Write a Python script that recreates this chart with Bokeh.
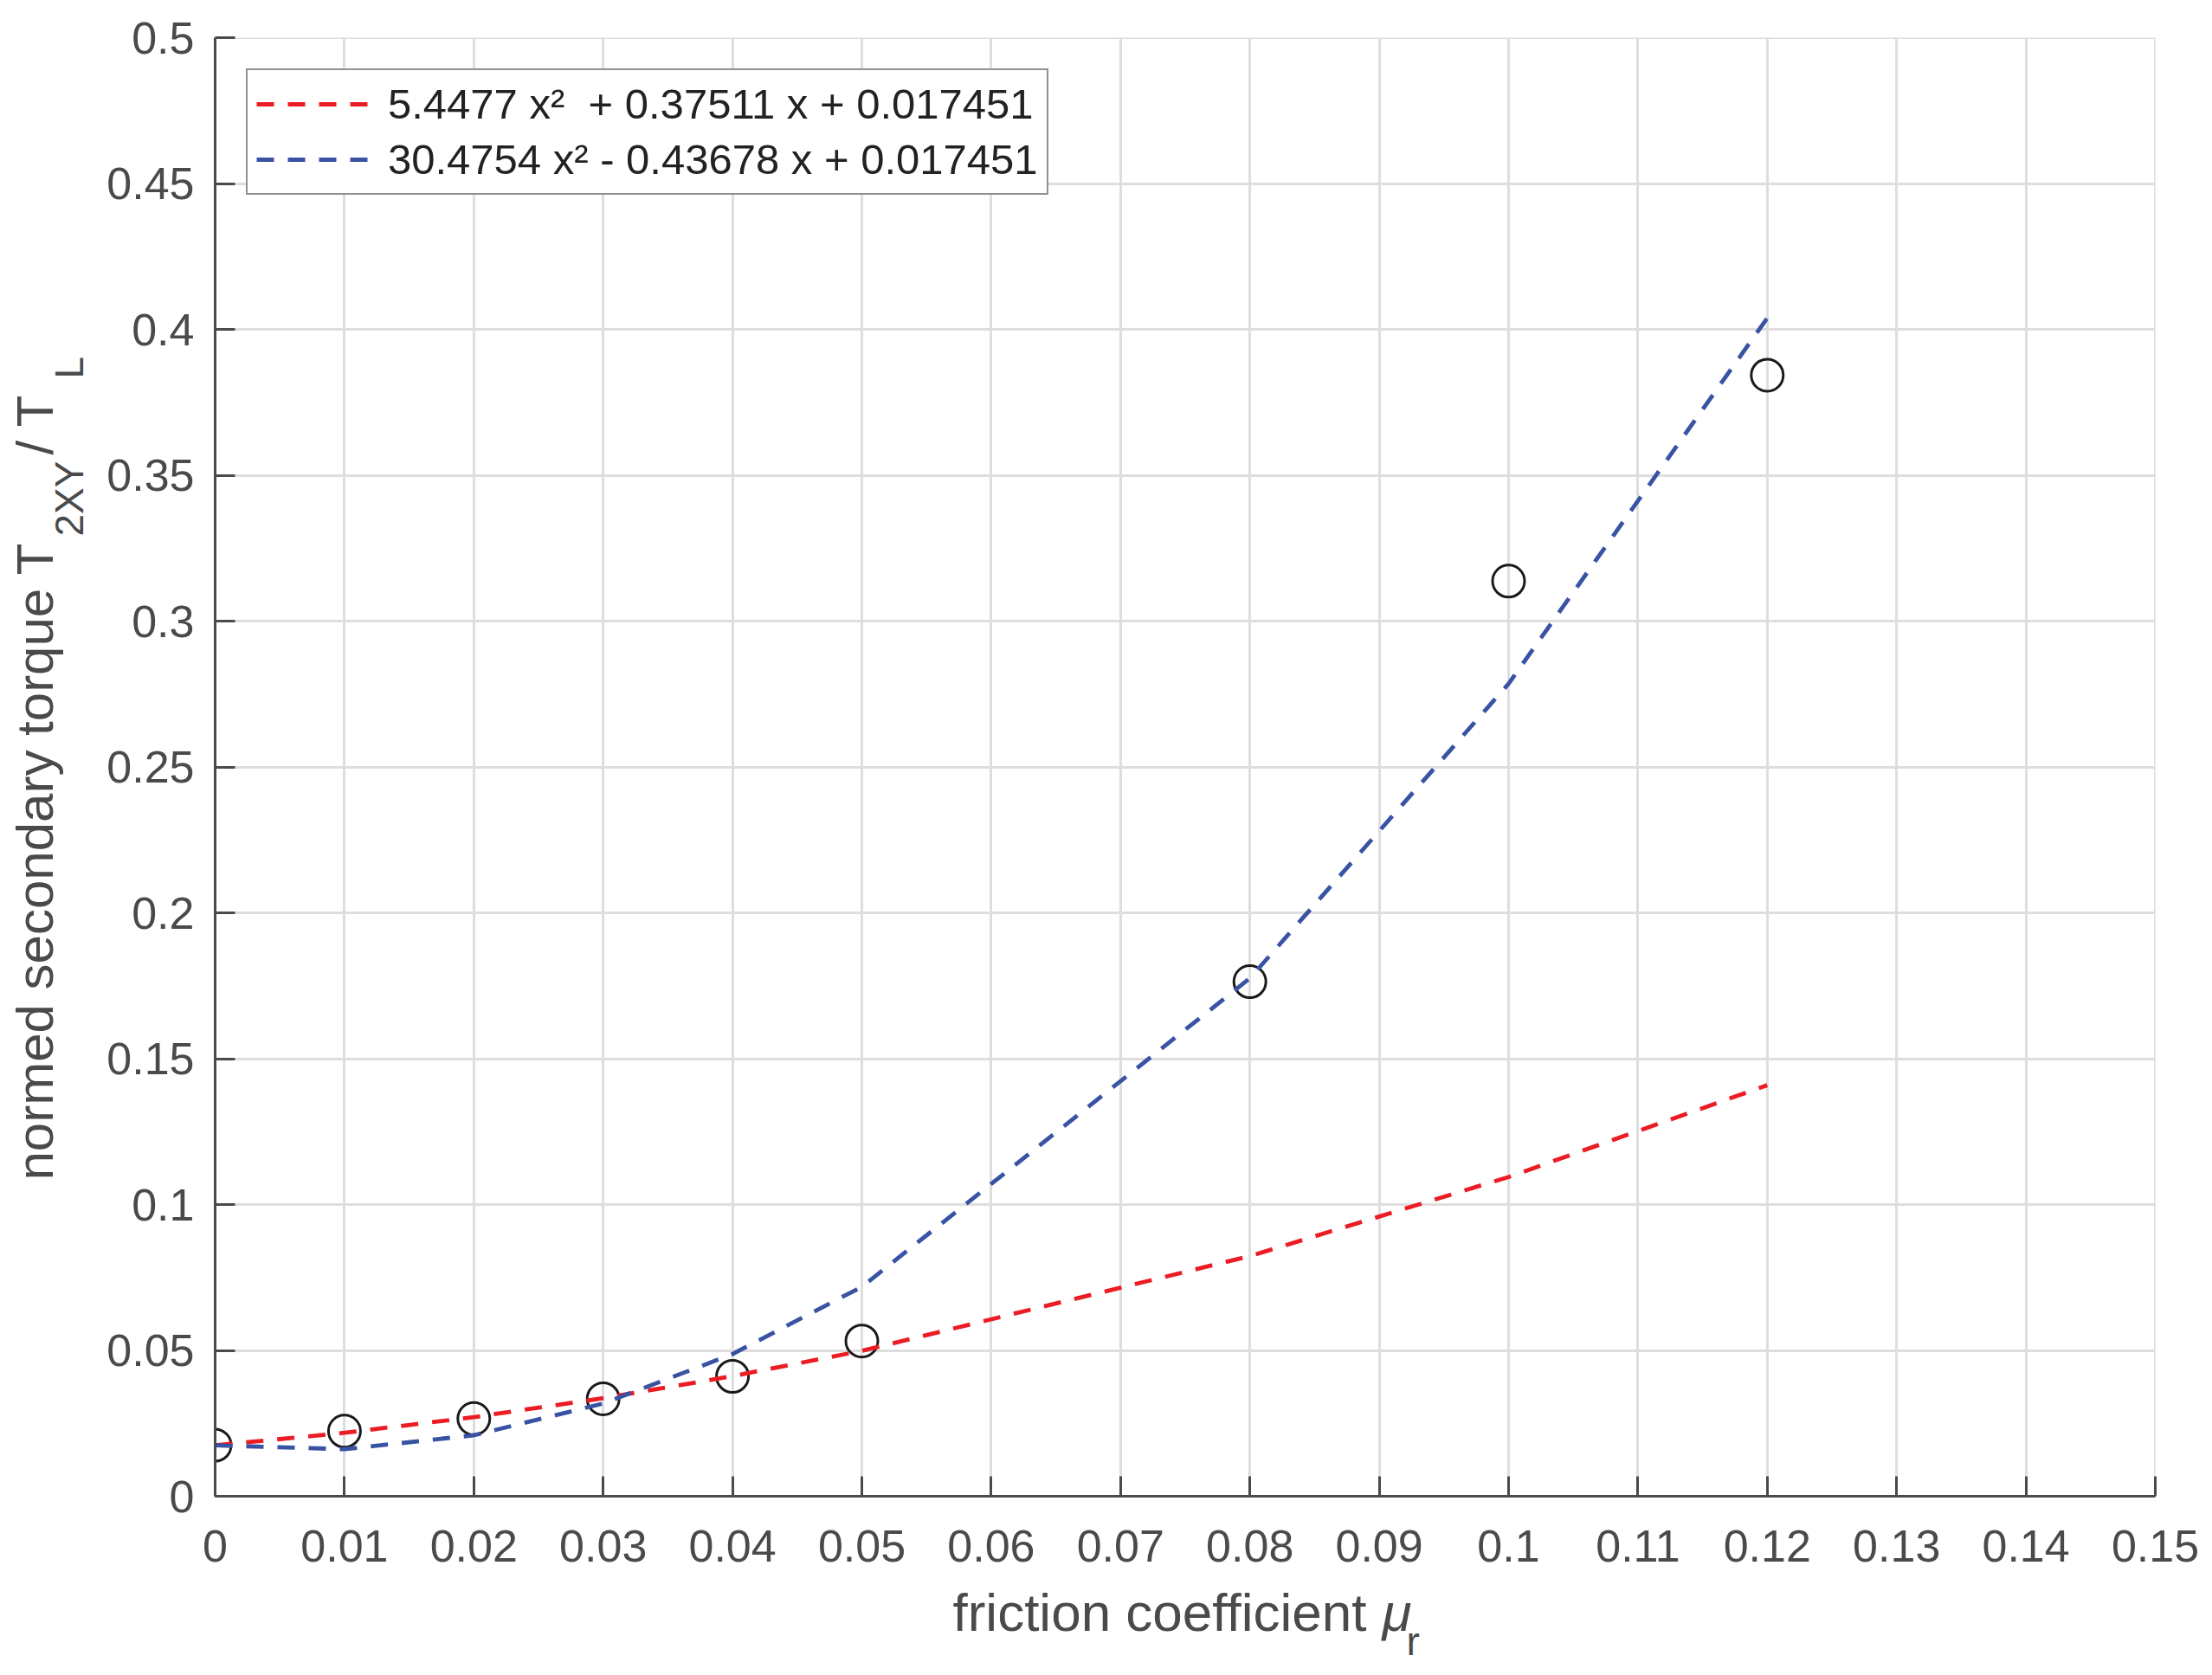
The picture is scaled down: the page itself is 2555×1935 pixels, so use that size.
from math import pi
from bokeh.plotting import figure
from bokeh.layouts import row, column
from bokeh.models import Range1d, FixedTicker, CustomJSTickFormatter, Span
from bokeh.core.properties import value
from bokeh.embed import file_html
from bokeh.resources import INLINE

# ---------------- data ----------------
mu = [0.0, 0.01, 0.02, 0.03, 0.04, 0.05, 0.08, 0.10, 0.12]
torque = [0.0175, 0.0223, 0.0266, 0.0334, 0.0411, 0.0532, 0.1764, 0.3137, 0.3843]
fit_red = [0.01745, 0.02175, 0.02713, 0.03361, 0.04117, 0.04983, 0.08232, 0.10944, 0.14091]
fit_blue = [0.01745, 0.01613, 0.02091, 0.03178, 0.04874, 0.07180, 0.17755, 0.27853, 0.40388]
x_ticks = [0.0, 0.01, 0.02, 0.03, 0.04, 0.05, 0.06, 0.07, 0.08, 0.09, 0.10,
           0.11, 0.12, 0.13, 0.14, 0.15]
y_ticks = [0.0, 0.05, 0.10, 0.15, 0.20, 0.25, 0.30, 0.35, 0.40, 0.45, 0.50]
label_red = "5.4477 x\u00b2  + 0.37511 x + 0.017451"
label_blue = "30.4754 x\u00b2 - 0.43678 x + 0.017451"
xlabel_parts = ["friction coefficient", "\u03bc", "r"]
ylabel_parts = ["normed secondary torque T", "2XY", " / T", "L"]

# ---------------- layout (pixels) ----------------
YW = 120                      # width of the y-label strip
MW, MH = 2425, 1828           # main figure
XH = 102                      # height of the x-label strip
BL, BT, BR, BB = 128, 43, 56, 100
FONT = "Liberation Sans"
AXC = "#4a4a4a"
GRIDC = "#dedede"

p = figure(width=MW, height=MH, output_backend="svg", toolbar_location=None,
           x_range=Range1d(x_ticks[0], x_ticks[-1]),
           y_range=Range1d(y_ticks[0], y_ticks[-1]),
           min_border_left=BL, min_border_top=BT, min_border_right=BR,
           min_border_bottom=BB)
p.outline_line_color = None
p.background_fill_color = "white"
p.border_fill_color = "white"

for ax, ticks in ((p.xaxis[0], x_ticks), (p.yaxis[0], y_ticks)):
    ax.ticker = FixedTicker(ticks=ticks)
    ax.formatter = CustomJSTickFormatter(code="return String(Number(tick.toFixed(2)));")
    ax.axis_line_color = AXC
    ax.axis_line_width = 3
    ax.major_tick_line_color = AXC
    ax.major_tick_line_width = 3
    ax.major_tick_in = 23
    ax.major_tick_out = 0
    ax.minor_tick_line_color = None
    ax.major_label_text_font = FONT
    ax.major_label_text_font_size = "52px"
    ax.major_label_text_color = AXC
p.xaxis[0].major_label_standoff = 39
p.yaxis[0].major_label_standoff = 24

for g in (p.xgrid[0], p.ygrid[0]):
    g.grid_line_color = GRIDC
    g.grid_line_width = 3
# grid lines at the far ends (top and right edges)
p.add_layout(Span(location=x_ticks[-1], dimension="height", line_color=GRIDC,
                  line_width=3, level="underlay"))
p.add_layout(Span(location=y_ticks[-1], dimension="width", line_color=GRIDC,
                  line_width=3, level="underlay"))

# data points
p.scatter(mu, torque, marker="circle", size=37, fill_color=None,
          line_color="#1a1a1a", line_width=3)
# fits
p.line(mu, fit_red, line_color="#ec1c24", line_width=4.8, line_dash="20 16",
       legend_label=label_red)
p.line(mu, fit_blue, line_color="#3953a4", line_width=4.8, line_dash="20 16",
       legend_label=label_blue)

lg = p.legend[0]
lg.location = "top_left"
lg.margin = 36
lg.padding = 10
lg.spacing = 6
lg.label_height = 58
lg.glyph_height = 58
lg.glyph_width = 132
lg.label_standoff = 20
lg.label_text_font = FONT
lg.label_text_font_size = "49px"
lg.label_text_color = "#222222"
lg.border_line_color = "#262626"
lg.border_line_width = 2
lg.background_fill_color = "white"
lg.background_fill_alpha = 1.0


def strip(w, h, bl=0, br=0):
    f = figure(width=w, height=h, output_backend="svg", toolbar_location=None,
               x_range=Range1d(bl, w - br), y_range=Range1d(0, h),
               min_border_left=bl, min_border_right=br,
               min_border_top=0, min_border_bottom=0,
               x_axis_location=None, y_axis_location=None)
    f.grid.visible = False
    f.outline_line_color = None
    f.background_fill_color = "white"
    f.border_fill_color = "white"
    return f


# ---- y-axis label strip (page y -> strip y = MH - page_y) ----
ys = strip(YW, MH)
y_main_x, y_sub_x = 40, 79
ys.text(x=[y_main_x, y_main_x], y=[MH - 1363, MH - 525],
        text=[ylabel_parts[0], ylabel_parts[2]], angle=pi / 2,
        text_font=value(FONT), text_font_size=value("60px"), text_color=AXC,
        text_align="left", text_baseline="alphabetic")
ys.text(x=[y_sub_x, y_sub_x], y=[MH - 619, MH - 437],
        text=[ylabel_parts[1], ylabel_parts[3]], angle=pi / 2,
        text_font=value(FONT), text_font_size=value("46px"), text_color=AXC,
        text_align="left", text_baseline="alphabetic")

# ---- x-axis label strip (strip x = page x - YW, strip y from bottom) ----
xs = strip(MW, XH, BL, BR)
xs.text(x=[1100 - YW], y=[68], text=[xlabel_parts[0]],
        text_font=value(FONT), text_font_size=value("62px"), text_color=AXC,
        text_align="left", text_baseline="alphabetic")
xs.text(x=[1596 - YW], y=[68], text=[xlabel_parts[1]],
        text_font=value(FONT), text_font_style="italic",
        text_font_size=value("62px"), text_color=AXC,
        text_align="left", text_baseline="alphabetic")
xs.text(x=[1624 - YW], y=[35], text=[xlabel_parts[2]],
        text_font=value(FONT), text_font_size=value("46px"), text_color=AXC,
        text_align="left", text_baseline="alphabetic")

layout = row(ys, column(p, xs, spacing=0), spacing=0)
open("out.html", "w").write(file_html(layout, INLINE))
